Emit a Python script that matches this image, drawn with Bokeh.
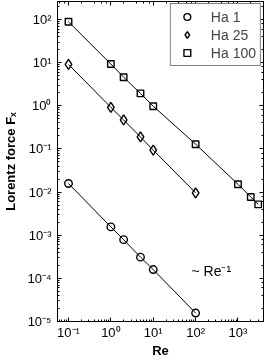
from bokeh.plotting import figure
from bokeh.models import LogAxis, Range1d, CustomJSTickFormatter, Label, Legend, LegendItem, LogTicker
from bokeh.embed import file_html
from bokeh.resources import INLINE

# data
re_ha1 = [0.1, 1, 2, 5, 10, 100]
fx_ha1 = [0.0158, 0.00156, 0.00079, 0.00031, 0.00016, 1.57e-5]
re_ha25 = [0.1, 1, 2, 5, 10, 100]
fx_ha25 = [9.1, 0.92, 0.47, 0.19, 0.094, 0.0096]
re_ha100 = [0.1, 1, 2, 5, 10, 100, 1000, 2000, 3000]
fx_ha100 = [89, 9.3, 4.6, 1.94, 0.98, 0.129, 0.0152, 0.0077, 0.0052]
series_labels = ["Ha 1", "Ha 25", "Ha 100"]

FONT = "Liberation Sans"

p = figure(width=266, height=360, x_axis_type="log", y_axis_type="log",
           x_range=Range1d(0.055, 4000), y_range=Range1d(1e-5, 262),
           output_backend="svg", toolbar_location=None,
           min_border_left=55, min_border_right=3, min_border_top=1, min_border_bottom=37,
           styles={"position": "fixed", "left": "0px", "top": "0px"})
p.background_fill_color = "white"
p.border_fill_color = "white"
p.outline_line_color = "black"
p.outline_line_width = 1
p.xgrid.visible = False
p.ygrid.visible = False

fmt = CustomJSTickFormatter(code="""
const sup = {'-':'\u207b','0':'\u2070','1':'\u00b9','2':'\u00b2','3':'\u00b3','4':'\u2074','5':'\u2075','6':'\u2076','7':'\u2077','8':'\u2078','9':'\u2079'};
const e = Math.round(Math.log10(tick));
return '10' + String(e).split('').map(c => sup[c]).join('');
""")
blank = CustomJSTickFormatter(code="return '';")

def style_axis(ax, labels=True):
    ax.axis_line_color = "black"
    ax.major_tick_line_color = "black"
    ax.minor_tick_line_color = "black"
    ax.major_tick_in = 4
    ax.major_tick_out = 0
    ax.minor_tick_in = 2
    ax.minor_tick_out = 0
    if labels:
        ax.formatter = fmt
        ax.major_label_text_font = FONT
        ax.major_label_text_font_size = "13px"
        ax.major_label_text_color = "black"
        ax.axis_label_text_font = FONT
        ax.axis_label_text_font_size = "13px"
        ax.axis_label_text_font_style = "bold"
        ax.axis_label_text_color = "black"
    else:
        ax.formatter = blank
        ax.major_label_text_font_size = "1px"
        ax.major_label_standoff = 0

style_axis(p.xaxis[0])
style_axis(p.yaxis[0])
p.xaxis[0].axis_label = "Re"
p.xaxis[0].major_label_standoff = 3
p.xaxis[0].axis_label_standoff = 0
p.yaxis[0].axis_label = "Lorentz force F\u2093"
p.yaxis[0].major_label_standoff = 6
p.yaxis[0].axis_label_standoff = 6

top = LogAxis(ticker=LogTicker())
right = LogAxis(ticker=LogTicker())
style_axis(top, labels=False)
style_axis(right, labels=False)
p.add_layout(top, "above")
p.add_layout(right, "right")

p.line(re_ha1, fx_ha1, line_color="black", line_width=1)
p.line(re_ha25, fx_ha25, line_color="black", line_width=1)
p.line(re_ha100, fx_ha100, line_color="black", line_width=1)

r1 = p.scatter(re_ha1, fx_ha1, marker="circle", size=7.5, fill_color=None,
               line_color="black", line_width=1.4)
r2 = p.scatter(re_ha25, fx_ha25, marker="diamond", size=10, fill_color=None,
               line_color="black", line_width=1.4)
r3 = p.scatter(re_ha100, fx_ha100, marker="square", size=6.5, fill_color=None,
               line_color="black", line_width=1.4)

legend = Legend(items=[LegendItem(label=series_labels[0], renderers=[r1]),
                       LegendItem(label=series_labels[1], renderers=[r2]),
                       LegendItem(label=series_labels[2], renderers=[r3])],
                location="top_right", margin=2, padding=4, spacing=1,
                glyph_width=24, glyph_height=17, label_height=17, label_standoff=12,
                label_text_font=FONT, label_text_font_size="14px",
                border_line_color="black", border_line_width=1,
                background_fill_alpha=1.0)
p.add_layout(legend, "center")

p.add_layout(Label(x=80, y=1.48e-4, text="~ Re\u207b\u00b9", text_font=FONT,
                   text_font_size="14px", text_baseline="middle", text_color="black"))

open("out.html", "w").write(file_html(p, INLINE))
